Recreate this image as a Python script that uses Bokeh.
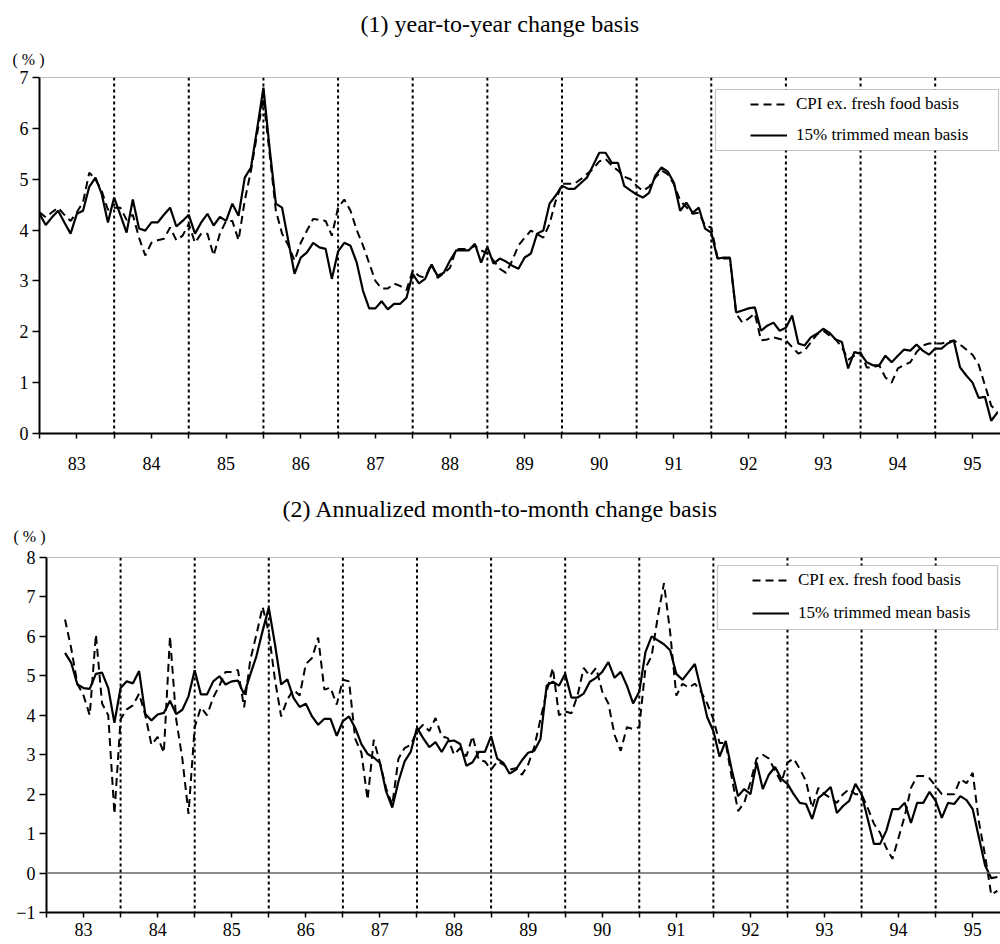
from bokeh.plotting import figure
from bokeh.models import (FixedTicker, Span, Title, BoxAnnotation, Legend,
                          LegendItem, Range1d)
from bokeh.layouts import column
from bokeh.embed import file_html
from bokeh.resources import INLINE

FONT = "Liberation Serif"

year_labels = ["83", "84", "85", "86", "87", "88", "89", "90", "91", "92", "93", "94", "95"]
legend_labels = ["CPI ex. fresh food basis", "15% trimmed mean basis"]

# (1) year-to-year change, monthly from 1983 Jan
yoy_start = 0
yoy_cpi = [
    4.35, 4.25, 4.35, 4.44, 4.30, 4.18, 4.35, 4.55, 5.13, 5.00, 4.77, 4.40,
    4.44, 4.44, 4.20, 4.30, 3.85, 3.50, 3.75, 3.80, 3.83, 4.05, 3.80, 3.89,
    4.12, 3.75, 3.93, 3.93, 3.50, 3.93, 4.18, 4.18, 3.80, 4.58, 5.17, 5.90,
    6.60, 5.50, 4.38, 3.93, 3.70, 3.40, 3.75, 3.99, 4.22, 4.20, 4.18, 3.89,
    4.44, 4.60, 4.38, 4.00, 3.70, 3.35, 3.00, 2.85, 2.85, 2.95, 2.90, 2.82,
    3.20, 3.10, 3.06, 3.34, 3.06, 3.15, 3.26, 3.63, 3.63, 3.63, 3.69, 3.60,
    3.54, 3.40, 3.24, 3.16, 3.40, 3.70, 3.85, 3.99, 3.92, 3.85, 4.12, 4.58,
    4.91, 4.91, 4.91, 5.00, 5.10, 5.20, 5.35, 5.40, 5.27, 5.17, 5.05, 5.00,
    4.87, 4.77, 4.85, 5.03, 5.17, 5.10, 4.90, 4.58, 4.45, 4.32, 4.34, 4.09,
    4.05, 3.46, 3.44, 3.44, 2.36, 2.18, 2.26, 2.36, 1.83, 1.85, 1.89, 1.86,
    1.83, 1.70, 1.57, 1.63, 1.79, 1.95, 2.02, 1.93, 1.85, 1.70, 1.45, 1.53,
    1.60, 1.30, 1.30, 1.34, 1.10, 1.00, 1.28, 1.35, 1.40, 1.60, 1.73, 1.77,
    1.77, 1.77, 1.80, 1.83, 1.75, 1.65, 1.55, 1.35, 0.95, 0.55, 0.41,
]
yoy_trim = [
    4.32, 4.10, 4.25, 4.38, 4.15, 3.93, 4.32, 4.38, 4.85, 5.03, 4.71, 4.15,
    4.64, 4.30, 3.95, 4.60, 4.03, 3.99, 4.15, 4.15, 4.30, 4.44, 4.07, 4.18,
    4.30, 3.93, 4.15, 4.32, 4.09, 4.26, 4.18, 4.52, 4.28, 5.03, 5.23, 6.00,
    6.80, 5.60, 4.52, 4.44, 3.79, 3.14, 3.46, 3.56, 3.75, 3.66, 3.63, 3.04,
    3.58, 3.75, 3.69, 3.36, 2.81, 2.46, 2.46, 2.60, 2.44, 2.55, 2.55, 2.67,
    3.14, 2.95, 3.04, 3.32, 3.10, 3.16, 3.40, 3.60, 3.60, 3.60, 3.73, 3.36,
    3.67, 3.34, 3.44, 3.38, 3.30, 3.24, 3.46, 3.54, 3.93, 3.99, 4.52, 4.68,
    4.87, 4.81, 4.81, 4.92, 5.03, 5.27, 5.52, 5.52, 5.32, 5.32, 4.87, 4.78,
    4.70, 4.64, 4.73, 5.07, 5.23, 5.15, 4.93, 4.38, 4.54, 4.34, 4.44, 4.03,
    3.95, 3.44, 3.46, 3.46, 2.38, 2.42, 2.46, 2.48, 2.02, 2.12, 2.18, 2.02,
    2.08, 2.32, 1.77, 1.73, 1.89, 1.96, 2.06, 1.98, 1.85, 1.80, 1.28, 1.60,
    1.57, 1.40, 1.34, 1.34, 1.53, 1.40, 1.53, 1.65, 1.63, 1.75, 1.63, 1.55,
    1.67, 1.67, 1.77, 1.83, 1.30, 1.14, 1.00, 0.70, 0.72, 0.25, 0.41,
]

# (2) annualized month-to-month change, monthly from 1983 Apr
mom_start = 3
mom_cpi = [
                      6.43, 5.70, 4.80, 4.50, 4.00, 6.05, 4.30, 4.00, 1.50,
    3.90, 4.15, 4.25, 4.55, 4.00, 3.25, 3.45, 3.05, 6.00, 3.90, 2.90, 1.50,
    3.70, 4.20, 4.00, 4.45, 4.75, 5.10, 5.10, 5.15, 4.20, 5.40, 6.05, 6.75,
    6.10, 4.90, 3.97, 4.40, 4.65, 4.50, 5.30, 5.45, 5.97, 4.65, 4.70, 4.27,
    4.90, 4.86, 3.40, 3.05, 1.86, 3.38, 2.80, 2.15, 1.73, 2.90, 3.17, 3.25,
    3.60, 3.76, 3.60, 3.93, 3.47, 3.42, 3.00, 3.17, 2.96, 3.47, 2.87, 2.83,
    2.62, 2.83, 2.75, 2.62, 2.66, 2.49, 2.75, 3.20, 3.90, 4.60, 5.20, 4.00,
    4.10, 4.05, 4.50, 5.20, 5.00, 5.20, 4.60, 4.30, 3.50, 3.10, 3.70, 3.65,
    3.70, 5.20, 5.50, 6.50, 7.35, 6.10, 4.50, 4.80, 4.70, 4.80, 4.60, 4.30,
    3.90, 3.30, 3.30, 2.40, 1.57, 1.78, 2.30, 2.90, 3.00, 2.90, 2.59, 2.30,
    2.80, 2.90, 2.64, 2.33, 1.65, 2.16, 2.00, 1.90, 1.78, 2.00, 2.13, 2.00,
    2.00, 1.65, 1.25, 1.02, 0.64, 0.36, 0.90, 1.45, 2.16, 2.46, 2.46, 2.40,
    2.20, 2.00, 2.00, 2.00, 2.38, 2.28, 2.54, 1.30, 0.45, -0.55, -0.45,
]
mom_trim = [
                      5.58, 5.33, 4.78, 4.69, 4.67, 5.05, 5.08, 4.69, 3.81,
    4.69, 4.86, 4.81, 5.12, 4.03, 3.87, 4.02, 4.06, 4.37, 4.03, 4.14, 4.48,
    5.14, 4.53, 4.53, 4.86, 4.99, 4.78, 4.86, 4.88, 4.53, 5.03, 5.50, 6.14,
    6.73, 5.80, 4.78, 4.91, 4.44, 4.21, 4.29, 3.97, 3.76, 3.91, 3.91, 3.48,
    3.85, 3.97, 3.68, 3.27, 3.02, 2.93, 2.79, 2.07, 1.66, 2.32, 2.83, 3.08,
    3.68, 3.42, 3.19, 3.32, 3.07, 3.34, 3.36, 3.27, 2.72, 2.81, 3.07, 3.07,
    3.47, 2.90, 2.79, 2.52, 2.62, 2.86, 3.05, 3.10, 3.40, 4.75, 4.85, 4.75,
    5.05, 4.45, 4.45, 4.55, 4.85, 4.95, 5.10, 5.35, 4.95, 5.10, 4.75, 4.30,
    4.60, 5.60, 6.00, 5.90, 5.80, 5.65, 5.05, 4.90, 5.10, 5.30, 4.65, 3.95,
    3.60, 2.95, 3.35, 2.60, 1.95, 2.13, 2.00, 2.80, 2.13, 2.50, 2.69, 2.39,
    2.26, 2.00, 1.78, 1.75, 1.37, 1.90, 2.03, 2.18, 1.52, 1.70, 1.83, 2.26,
    2.00, 1.37, 0.74, 0.74, 1.07, 1.62, 1.62, 1.78, 1.27, 1.78, 1.78, 2.06,
    1.83, 1.40, 1.78, 1.75, 1.95, 1.85, 1.62, 0.90, 0.20, -0.13, -0.10,
]


def make_panel(title, title_offset, title_standoff, pct_offset, pct_standoff,
               spacer_standoff, cpi, trim, start, ymin, ymax, height, b_left,
               b_top, b_bottom, label_standoff, box, leg_loc, leg_spacing,
               zero_line):
    p = figure(width=1000, height=height, output_backend="svg",
               toolbar_location=None, x_range=Range1d(0, 154.5),
               y_range=Range1d(ymin, ymax), min_border_left=b_left,
               min_border_right=0, min_border_top=b_top,
               min_border_bottom=b_bottom)
    p.frame_align = False
    p.outline_line_color = None
    p.background_fill_color = "white"
    p.xgrid.grid_line_color = None
    p.ygrid.grid_line_color = None

    # above panel, stacked outward from the frame: spacer, unit label, title
    p.add_layout(Title(text=" ", text_font_size="1px", standoff=spacer_standoff),
                 "above")
    p.add_layout(Title(text="( % )", align="left", offset=pct_offset,
                       text_font=FONT, text_font_size="16px",
                       text_font_style="normal", text_color="black",
                       standoff=pct_standoff, vertical_align="middle"), "above")
    p.title = Title(text=title, align="left", offset=title_offset,
                    text_font=FONT, text_font_size="24px",
                    text_font_style="normal", text_color="black",
                    standoff=title_standoff, vertical_align="middle")

    # x axis: half-year ticks, year labels at mid-year
    ticks = list(range(0, 151, 6))
    overrides = {}
    for t in ticks:
        overrides[t] = year_labels[t // 12] if t % 12 == 6 else ""
    p.xaxis.ticker = FixedTicker(ticks=ticks)
    p.xaxis.major_label_overrides = overrides
    p.yaxis.ticker = FixedTicker(ticks=list(range(ymin, ymax + 1)))
    for ax in (p.xaxis, p.yaxis):
        ax.axis_line_width = 2
        ax.axis_line_color = "black"
        ax.major_tick_line_color = "black"
        ax.major_tick_line_width = 1.5
        ax.major_tick_in = 0
        ax.minor_tick_line_color = None
        ax.major_label_text_font = FONT
        ax.major_label_text_font_size = "18px"
        ax.major_label_text_color = "black"
    p.xaxis.major_tick_out = 5
    p.xaxis.major_label_standoff = label_standoff
    p.yaxis.major_tick_out = 7
    p.yaxis.major_label_standoff = 4

    # top border
    p.add_layout(Span(location=ymax, dimension="width", line_color="#808080",
                      line_width=1))
    if zero_line:
        p.add_layout(Span(location=0, dimension="width", line_color="#666666",
                          line_width=1.5))
    # dotted year separators
    for k in range(1, 13):
        p.add_layout(Span(location=12 * k, dimension="height",
                          line_color="black", line_width=2, line_dash="3 3"))

    x = list(range(start, start + len(cpi)))
    r_cpi = p.line(x, cpi, line_color="black", line_width=2, line_dash="8 5")
    r_trim = p.line(x, trim, line_color="black", line_width=2.2)

    # legend box
    bl, br, bb, bt = box
    p.add_layout(BoxAnnotation(left=bl, right=br, bottom=bb, top=bt,
                               left_units="screen", right_units="screen",
                               bottom_units="screen", top_units="screen",
                               fill_color="white", fill_alpha=1.0,
                               line_color="#404040", line_width=1.2,
                               level="annotation"))
    legend = Legend(items=[LegendItem(label=legend_labels[0], renderers=[r_cpi]),
                           LegendItem(label=legend_labels[1], renderers=[r_trim])],
                    location=leg_loc, padding=0, margin=0, spacing=leg_spacing,
                    glyph_width=37, glyph_height=20, label_height=20,
                    label_standoff=9, border_line_color=None,
                    background_fill_alpha=0.0, label_text_font=FONT,
                    label_text_font_size="17px", label_text_color="black")
    p.add_layout(legend)
    return p


p1 = make_panel("(1) year-to-year change basis", 321, 14.5, -27, 8.4, 1.9,
                yoy_cpi, yoy_trim, yoy_start, 0, 7, height=477, b_left=39,
                b_top=77, b_bottom=44, label_standoff=18,
                box=(676, 959, 283, 344), leg_loc=(711, 288), leg_spacing=11,
                zero_line=False)
p2 = make_panel("(2) Annualized month-to-month change basis", 236, 8, -33, 0,
                9.1, mom_cpi, mom_trim, mom_start, -1, 8, height=467, b_left=46,
                b_top=80, b_bottom=32, label_standoff=5,
                box=(671, 951, 283, 347), leg_loc=(706, 289), leg_spacing=13,
                zero_line=True)

layout = column(p1, p2, spacing=0)
open("out.html", "w").write(file_html(layout, INLINE))
